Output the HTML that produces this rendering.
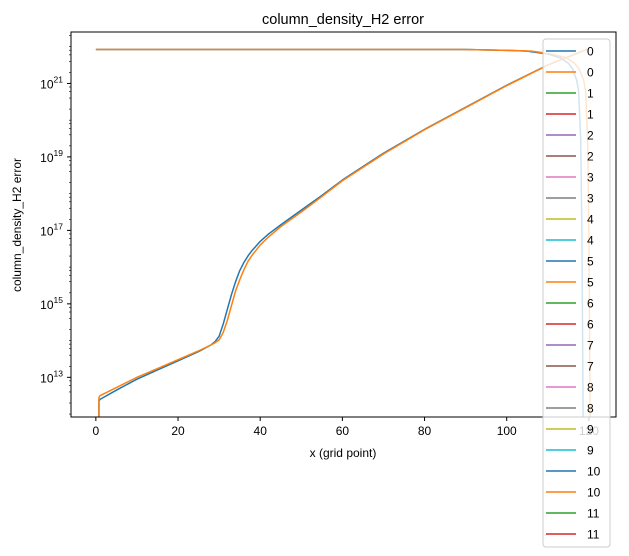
<!DOCTYPE html>
<html><head><meta charset="utf-8"><style>
body{margin:0;background:#fff;}
svg{display:block;font-family:"Liberation Sans","DejaVu Sans",sans-serif;}
</style></head><body>
<svg id="chart" width="629" height="556" xmlns="http://www.w3.org/2000/svg">
<rect width="629" height="556" fill="#fff"/>
<text x="343" y="24" font-size="14.5" text-anchor="middle" fill="#000">column_density_H2 error</text>
<g id="plot"></g>
<text x="343" y="457" font-size="12" text-anchor="middle">x (grid point)</text>
<text x="21" y="225" font-size="12" text-anchor="middle" transform="rotate(-90 21 225)">column_density_H2 error</text>
</svg>
<script>
const xTicks=[0,20,40,60,80,100,120];
const yTickExps=[13,15,17,19,21];
const blueRiseX=[0.75,0.75,1,5,10,15,20,25,28,29,30,31,32,33,34,35,36,37,38,40,42,45,50,55,60,70,80,90,100,110,120];
const blueRiseY=[11.9,12.35,12.4,12.65,12.95,13.2,13.45,13.7,13.88,13.97,14.12,14.45,14.85,15.25,15.6,15.9,16.12,16.3,16.45,16.7,16.9,17.15,17.55,17.95,18.37,19.1,19.75,20.35,20.95,21.5,21.95];
const orangeRiseX=[0.75,0.75,1,5,10,15,20,25,28,29,30,31,32,33,34,35,36,37,38,40,42,45,50,55,60,70,80,90,100,110,120];
const orangeRiseY=[11.9,12.45,12.5,12.72,13.0,13.24,13.48,13.72,13.88,13.94,14.02,14.22,14.55,14.95,15.35,15.65,15.92,16.15,16.32,16.6,16.82,17.1,17.5,17.92,18.35,19.08,19.74,20.34,20.94,21.5,21.95];
const blueFallX=[0,20,40,60,80,90,100,105,110,113,115,116,117,117.5,118,118.3,118.6];
const blueFallY=[21.925,21.925,21.925,21.925,21.925,21.925,21.9,21.88,21.8,21.7,21.55,21.4,21.1,20.8,19.5,17,11.9];
const orangeFallX=[0,20,40,60,80,90,100,106,111,114.5,116.5,117.6,118.7,119.2,119.7,120,120.3];
const orangeFallY=[21.925,21.925,21.925,21.925,21.925,21.925,21.9,21.88,21.8,21.7,21.55,21.4,21.1,20.8,19.5,17,11.9];
const legendLabels=["0","0","1","1","2","2","3","3","4","4","5","5","6","6","7","7","8","8","9","9","10","10","11","11"];
const colors=["#1f77b4","#ff7f0e","#2ca02c","#d62728","#9467bd","#8c564b","#e377c2","#7f7f7f","#bcbd22","#17becf"];

const L=71,R=616,T=32,B=417;
const xmin=-6.05,xmax=126.6,ymin=11.92,ymax=22.4;
const sx=v=>L+(v-xmin)/(xmax-xmin)*(R-L);
const sy=e=>B-(e-ymin)/(ymax-ymin)*(B-T);
const NS="http://www.w3.org/2000/svg";
const svg=document.getElementById('chart');
const plot=document.getElementById('plot');
function mk(t,a,p){const e=document.createElementNS(NS,t);for(const k in a)e.setAttribute(k,a[k]);(p||svg).appendChild(e);return e;}

const clip=mk('clipPath',{id:'cp'},svg);mk('rect',{x:L,y:T,width:R-L,height:B-T},clip);
function line(xs,ys,c,name){
  const d=xs.map((v,i)=>(i?'L':'M')+sx(v).toFixed(2)+','+sy(ys[i]).toFixed(2)).join('');
  const p=mk('path',{d:d,fill:'none',stroke:c,'stroke-width':1.5,'stroke-linejoin':'round','clip-path':'url(#cp)'},plot);
  
  
}
line(blueFallX,blueFallY,colors[0],'series-0-blue-fall');
line(blueRiseX,blueRiseY,colors[0],'series-0-blue-rise');
line(orangeFallX,orangeFallY,colors[1],'series-0-orange-fall');
line(orangeRiseX,orangeRiseY,colors[1],'series-0-orange-rise');

const frame=mk('rect',{x:L,y:T,width:R-L,height:B-T,fill:'none',stroke:'#000','stroke-width':1});



xTicks.forEach(v=>{const x=sx(v);
  mk('line',{x1:x,x2:x,y1:B,y2:B+4,stroke:'#000'});
  const t=mk('text',{x:x,y:B+18,'font-size':12,'text-anchor':'middle'});t.textContent=v;
  
  
});
for(let e=11;e<=22;e++){[1,2,4,6,8].forEach(m=>{const v=e+Math.log10(m);if(v<ymin||v>ymax)return;
  if(m===1&&yTickExps.includes(e))return;
  const y=sy(v);mk('line',{x1:L-2,x2:L,y1:y,y2:y,stroke:'#000','stroke-width':0.6});});}
yTickExps.forEach(e=>{const y=sy(e);
  mk('line',{x1:L-4,x2:L,y1:y,y2:y,stroke:'#000'});
  const t=mk('text',{x:L-8,y:y+5,'font-size':12,'text-anchor':'end'});
  t.innerHTML='10<tspan dy="-6" font-size="8.5">'+e+'</tspan>';
  
  
});

const lg=mk('g',{});


mk('rect',{x:543,y:39,width:67,height:508,rx:3,fill:'#fff','fill-opacity':0.8,stroke:'#ccc'},lg);
legendLabels.forEach((lab,i)=>{const y=51+i*21;
  const g=mk('g',{},lg);
  
  
  mk('line',{x1:546,x2:576,y1:y,y2:y,stroke:colors[i%10],'stroke-width':1.5},g);
  const t=mk('text',{x:587,y:y+4.5,'font-size':12},g);t.textContent=lab;
});
</script>
</body></html>
